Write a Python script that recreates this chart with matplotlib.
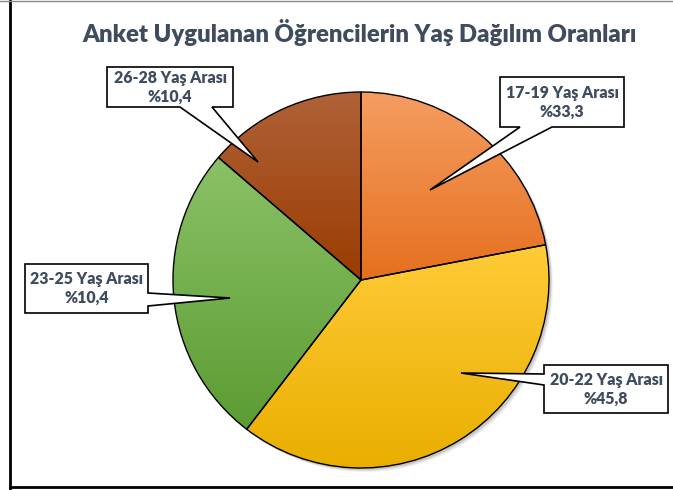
import numpy as np
import matplotlib
matplotlib.use("Agg")
import matplotlib.pyplot as plt
from matplotlib.patches import Polygon, Circle
from matplotlib.lines import Line2D

plt.rcParams['font.family'] = ['Lato', 'DejaVu Sans']

# data
title = "Anket Uygulanan Öğrencilerin Yaş Dağılım Oranları"
age_groups = ["17-19 Yaş Arası", "20-22 Yaş Arası", "23-25 Yaş Arası", "26-28 Yaş Arası"]
label_pcts = ["33,3", "45,8", "10,4", "10,4"]
# slice sizes as drawn in the picture (they do not follow the printed labels)
slice_sizes = [22.0, 38.4, 25.9, 13.7]

# gradient colours (top, bottom) per slice
grad_colors = [("#F59D62", "#E5701E"),
               ("#FFCB38", "#E9AE00"),
               ("#8AC166", "#5C9C33"),
               ("#B06238", "#9A3C02")]
text_color = "#3E4C5E"

W, H = 673, 490
fig = plt.figure(figsize=(W / 100, H / 100), dpi=100)
ax = fig.add_axes([0, 0, 1, 1])
ax.set_xlim(0, W)
ax.set_ylim(0, H)
ax.set_aspect('equal')
ax.axis('off')

cx, cy, r = 361, H - 280, 188

# soft shadow
for k, a in [(4, 0.06), (3, 0.08), (2, 0.10)]:
    ax.add_patch(Circle((cx + k, cy - k), r, color="black", alpha=a, lw=0, zorder=1))

wedges, _ = ax.pie(slice_sizes, center=(cx, cy), radius=r, startangle=90,
                   counterclock=False, frame=True,
                   wedgeprops=dict(edgecolor="black", linewidth=1.0, facecolor="none"))
ax.set_xlim(0, W)
ax.set_ylim(0, H)
ax.axis('off')

def hex2rgb(h):
    h = h.lstrip('#')
    return np.array([int(h[i:i + 2], 16) / 255 for i in (0, 2, 4)])

for w, (top, bot) in zip(wedges, grad_colors):
    verts = w.get_path().vertices
    ext = w.get_patch_transform().transform(verts)
    y0, y1 = ext[:, 1].min(), ext[:, 1].max()
    x0, x1 = ext[:, 0].min(), ext[:, 0].max()
    t = np.linspace(0, 1, 200)[:, None]
    grad = (1 - t) * hex2rgb(top) + t * hex2rgb(bot)
    im = ax.imshow(grad[:, None, :], extent=(x0, x1, y0, y1), origin='upper',
                   aspect='auto', zorder=2, interpolation='bilinear')
    im.set_clip_path(w)
    w.set_zorder(3)

# callouts: box corners (pixel, top-left origin) with pointer
def fy(p):
    return [(x, H - y) for x, y in p]

callouts = [
    # 17-19
    [(500, 77), (624, 77), (624, 127), (552, 127), (430, 190), (520, 127), (500, 127)],
    # 20-22
    [(544, 365), (668, 365), (668, 413), (544, 413), (544, 385), (461, 373), (544, 374)],
    # 23-25
    [(25, 264), (148, 264), (148, 293), (230, 298), (148, 306), (148, 313), (25, 313)],
    # 26-28
    [(107, 67), (233, 67), (233, 107), (212, 107), (258, 162), (180, 107), (107, 107)],
]
boxes = [(500, 77, 624, 127), (544, 365, 668, 413), (25, 264, 148, 313), (107, 67, 233, 107)]

for poly, box, name, pct in zip(callouts, boxes, age_groups, label_pcts):
    ax.add_patch(Polygon(fy(poly), closed=True, facecolor="white",
                         edgecolor="black", lw=1.2, zorder=5))
    bx = (box[0] + box[2]) / 2
    by = H - (box[1] + box[3]) / 2
    ax.text(bx, by, f"{name}\n%{pct}", ha="center", va="center", fontsize=11.4,
            fontweight="heavy", color=text_color, linespacing=1.2, zorder=6)

fig.text(360 / W, 1 - 33 / H, title, ha="center", va="center", fontsize=17.2,
         fontweight="heavy", color=text_color)

# frame lines
fig.add_artist(Line2D([10 / W, 10 / W], [0, 1 - 1 / H], transform=fig.transFigure,
                      color="black", lw=2))
fig.add_artist(Line2D([10 / W, 1], [3 / H, 3 / H], transform=fig.transFigure,
                      color="black", lw=2))
fig.add_artist(Line2D([0, 1], [1 - 1 / H, 1 - 1 / H], transform=fig.transFigure,
                      color="#888888", lw=1))

fig.savefig("out.png", dpi=100)
